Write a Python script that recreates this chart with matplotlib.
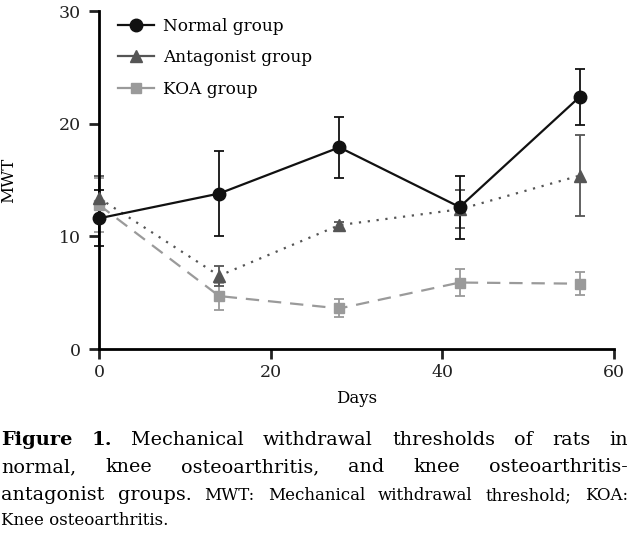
import matplotlib.pyplot as plt
from matplotlib.lines import Line2D

# Data
days = [0, 14, 28, 42, 56]
normal = [11.6, 13.8, 17.9, 12.6, 22.4]
normal_err = [2.5, 3.8, 2.7, 2.8, 2.5]
antagonist = [13.4, 6.5, 11.0, 12.4, 15.4]
antagonist_err = [2.0, 0.9, 0.3, 1.7, 3.6]
koa = [12.8, 4.7, 3.6, 5.9, 5.8]
koa_err = [2.4, 1.2, 0.8, 1.2, 1.0]

plt.rcParams['font.family'] = 'DejaVu Serif'

fig = plt.figure(figsize=(6.3, 5.39), dpi=100)
ax = fig.add_axes([0.157, 0.3525, 0.818, 0.627])

series = [
    (koa, koa_err, "KOA group", "#9a9a9a", "s", 7, (0, (6, 4))),
    (antagonist, antagonist_err, "Antagonist group", "#555555", "^", 8, (0, (1, 3))),
    (normal, normal_err, "Normal group", "#111111", "o", 9, "-"),
]
for vals, err, name, col, mk, ms, ls in series:
    ax.errorbar(days, vals, yerr=err, color=col, ecolor=col, elinewidth=1.3,
                capsize=3.5, capthick=1.3, linestyle="none", clip_on=False, zorder=2)
    ax.plot(days, vals, color=col, linestyle=ls, linewidth=1.6, marker=mk,
            markersize=ms, clip_on=False, zorder=3)

handles = [
    Line2D([], [], color="#111111", marker="o", markersize=9, linewidth=1.6),
    Line2D([], [], color="#555555", marker="^", markersize=8, linewidth=1.6),
    Line2D([], [], color="#9a9a9a", marker="s", markersize=7, linewidth=1.6),
]
ax.legend(handles, ["Normal group", "Antagonist group", "KOA group"],
          loc="upper left", bbox_to_anchor=(0.008, 1.025), frameon=False,
          fontsize=12.2, handlelength=2.1, handletextpad=0.55, labelspacing=0.85)

ax.set_xlim(0, 60)
ax.set_ylim(0, 30)
ax.set_xticks([0, 20, 40, 60])
ax.set_yticks([0, 10, 20, 30])
for s in ["top", "right"]:
    ax.spines[s].set_visible(False)
for s in ["left", "bottom"]:
    ax.spines[s].set_linewidth(2)
ax.tick_params(width=2, length=7, labelsize=12.5, colors="#222222")
ax.tick_params(axis="y", pad=6)
ax.set_xlabel("Days", fontsize=12, labelpad=7)
ax.set_ylabel("MWT", fontsize=12, labelpad=30)

# Caption, justified lines
fig.canvas.draw()
r = fig.canvas.get_renderer()
W = fig.bbox.width
H = fig.bbox.height


def justify(words, y, right=W - 2):
    # words: list of (text, size, weight)
    ts = [fig.text(0, y, w, fontsize=s, fontweight=b, va="baseline",
                   transform=None) for w, s, b in words]
    widths = [t.get_window_extent(r).width for t in ts]
    gap = (right - 1 - sum(widths)) / (len(ts) - 1)
    x = 1
    for t, w in zip(ts, widths):
        t.set_x(x)
        x += w + gap


big = 13.8
small = 12
line1 = [("Figure", 14, "bold"), ("1.", 14, "bold")] + \
    [(w, big, "normal") for w in "Mechanical withdrawal thresholds of rats in".split()]
line2 = [(w, big, "normal") for w in "normal, knee osteoarthritis, and knee osteoarthritis-".split()]
line3 = [("antagonist", big, "normal"), ("groups.", big, "normal")] + \
    [(w, small, "normal") for w in "MWT: Mechanical withdrawal threshold; KOA:".split()]
justify(line1, H - 445)
justify(line2, H - 472)
justify(line3, H - 500)
fig.text(1, H - 525, "Knee osteoarthritis.", fontsize=small, transform=None,
         va="baseline")

fig.savefig("out.png", dpi=100)
